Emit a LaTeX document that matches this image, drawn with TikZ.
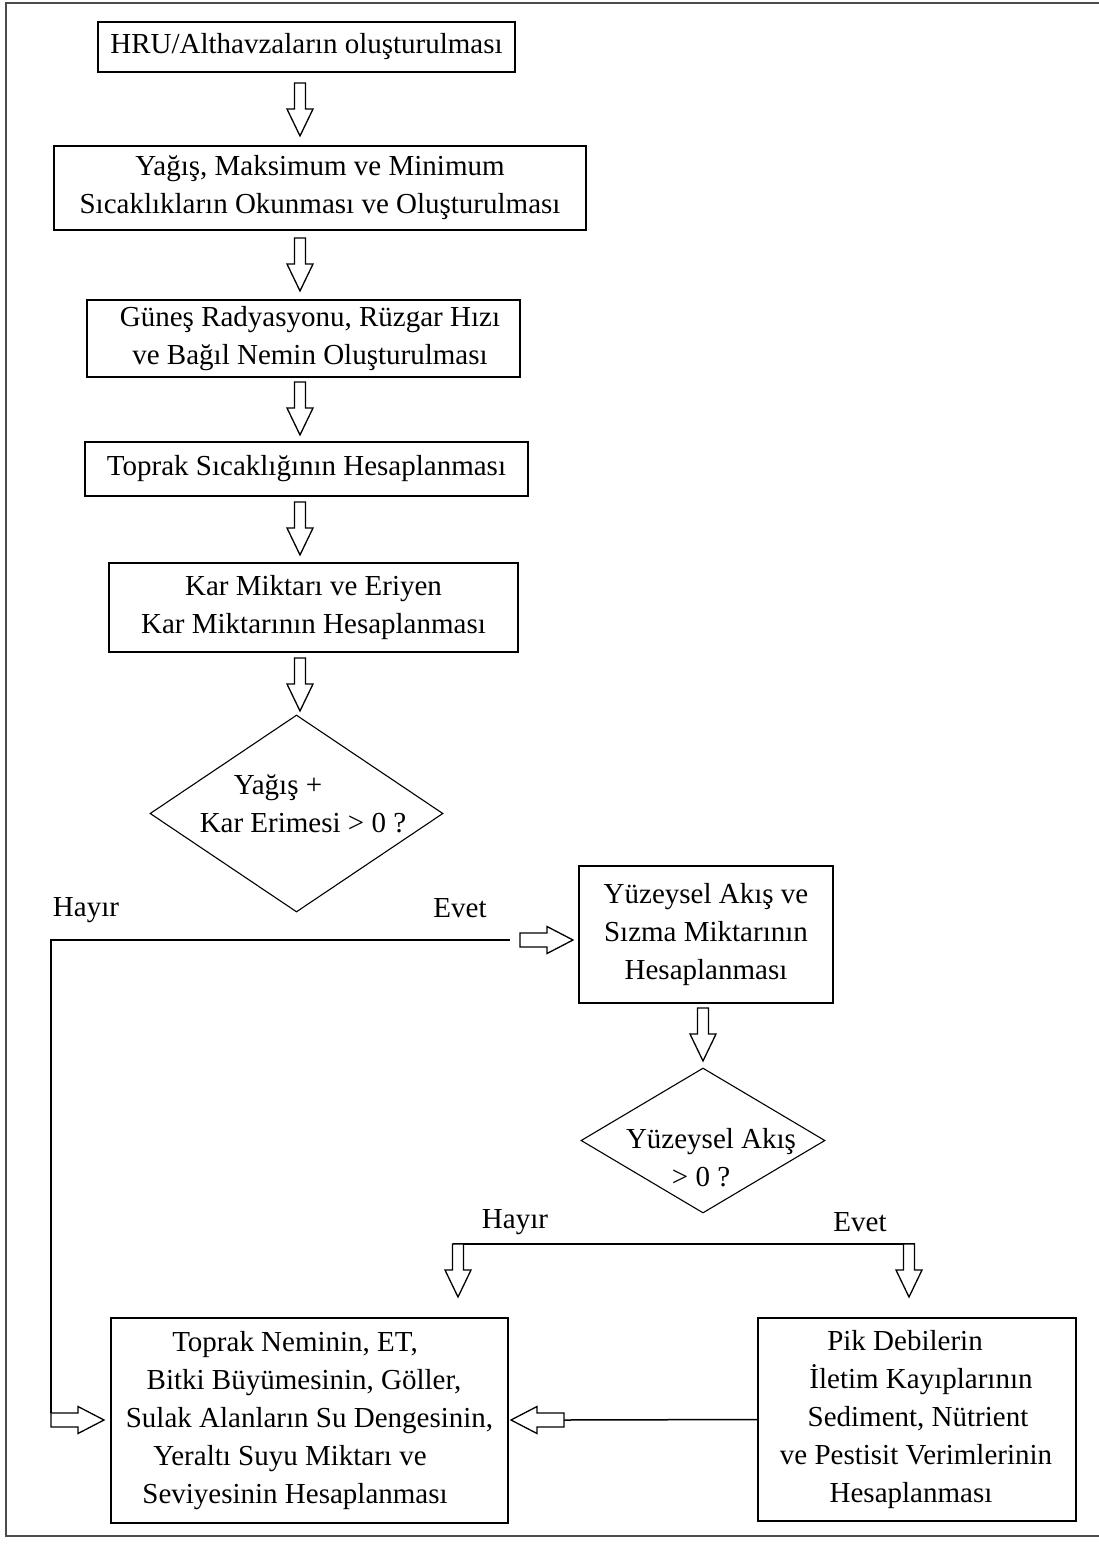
\documentclass[tikz,border=0pt]{standalone}
\usepackage{fontspec}
\setmainfont{Liberation Serif}
\usetikzlibrary{shapes.geometric}
\newcommand\fsz{\fontsize{29}{38}\selectfont}
\begin{document}
\begin{tikzpicture}[x=1pt,y=-1pt,
  box/.style={draw, line width=1.6pt, inner sep=0pt, align=center, font=\fsz},
  dia/.style={draw, diamond, line width=1.1pt, inner sep=0pt},
  lbl/.style={inner sep=0pt, align=center, font=\fsz},
  conn/.style={line width=1.5pt},
  arrowline/.style={draw, line width=1.3pt, fill=white, line join=miter},
  frame/.style={line width=2.5pt, draw=black!70},
  hdown/.pic={\path[arrowline] (-5.5,0) -- (-5.5,26) -- (-13,26) -- (0,53) -- (13,26) -- (5.5,26) -- (5.5,0) -- cycle;},
  hright/.pic={\path[arrowline] (0,-7) -- (27,-7) -- (27,-13.5) -- (53,0) -- (27,13.5) -- (27,7) -- (0,7) -- cycle;},
  hleft/.pic={\path[arrowline] (0,-7) -- (-27,-7) -- (-27,-13.5) -- (-53,0) -- (-27,13.5) -- (-27,7) -- (0,7) -- cycle;}
]
\useasboundingbox (0,0) rectangle (1099,1546);
\fill[white] (0,0) rectangle (1099,1546);
% frame (right side cut off)
\draw[frame] (1099,3) -- (6,3) -- (6,1536) -- (1099,1536);

% boxes
\node[box, minimum width=417pt, minimum height=50pt] (b1) at (306.5,47) {HRU/Althavzaların oluşturulması};
\node[box, minimum width=532pt, minimum height=84pt] (b2) at (320,188) {Yağış, Maksimum ve Minimum\\Sıcaklıkların Okunması ve Oluşturulması};
\node[box, minimum width=433pt, minimum height=77pt] (b3) at (303.5,338.5) {\kern13pt Güneş Radyasyonu, Rüzgar Hızı\\\kern13pt ve Bağıl Nemin Oluşturulması};
\node[box, minimum width=443pt, minimum height=54pt] (b4) at (306.5,469) {Toprak Sıcaklığının Hesaplanması};
\node[box, minimum width=409pt, minimum height=89pt] (b5) at (313.5,607.5) {Kar Miktarı ve Eriyen\\Kar Miktarının Hesaplanması};

% decision 1
\node[dia, minimum width=293pt, minimum height=197pt] (d1) at (296.5,813.5) {};
\node[lbl] (d1t) at (303,803.5) {Yağış +\kern50pt\\Kar Erimesi > 0 ?};

\node[box, minimum width=254pt, minimum height=137pt] (b6) at (706,934.5) {Yüzeysel Akış ve\\Sızma Miktarının\\Hesaplanması};

% decision 2
\node[dia, minimum width=244pt, minimum height=145pt] (d2) at (703,1140.5) {};
\node[lbl] (d2t) at (706,1158) {\kern10pt Yüzeysel Akış\\> 0 ?\kern10pt};

\node[box, minimum width=397pt, minimum height=205pt] (b7) at (309.5,1420.5) {Toprak Neminin, ET,\kern29pt\\Bitki Büyümesinin, Göller,\kern11pt\\Sulak Alanların Su Dengesinin,\\Yeraltı Suyu Miktarı ve\kern39pt\\Seviyesinin Hesaplanması\kern29pt};
\node[box, minimum width=318pt, minimum height=203pt] (b8) at (917,1419.5) {Pik Debilerin\kern24pt\\\kern8pt İletim Kayıplarının\\\kern2pt Sediment, Nütrient\\ve Pestisit Verimlerinin\kern2pt\\Hesaplanması\kern12pt};

% labels
\node[lbl] (l1) at (86,910) {Hayır};
\node[lbl] (l2) at (460,908) {Evet};
\node[lbl] (l3) at (515,1222) {Hayır};
\node[lbl] (l4) at (860,1222) {Evet};

% vertical hollow arrows of the main column
\pic at (300,83) {hdown};
\pic at (300,238) {hdown};
\pic at (300,382) {hdown};
\pic at (300,502) {hdown};
\pic at (300,658) {hdown};
\pic at (703,1008) {hdown};

% connector coordinates
\coordinate (c1) at (51,940);
\coordinate (c2) at (510,940);
\coordinate (c3) at (51,1413);
\coordinate (c4) at (564,1420);
\coordinate (c5) at (452.5,1244);
\coordinate (c6) at (914.5,1244);

% Evet / Hayir from decision 1
\draw[conn] (c2) -- (c1) -- (c3);
\pic at (520,940) {hright};
\pic at (51,1420) {hright};

% from Pik box to the left box
\draw[conn] (b8.west) -- (c4);
\pic at (c4) {hleft};

% decision 2 branches
\draw[conn] (c5) -- (c6);
\pic at (458,1244) {hdown};
\pic at (909,1244) {hdown};
\end{tikzpicture}
\end{document}
